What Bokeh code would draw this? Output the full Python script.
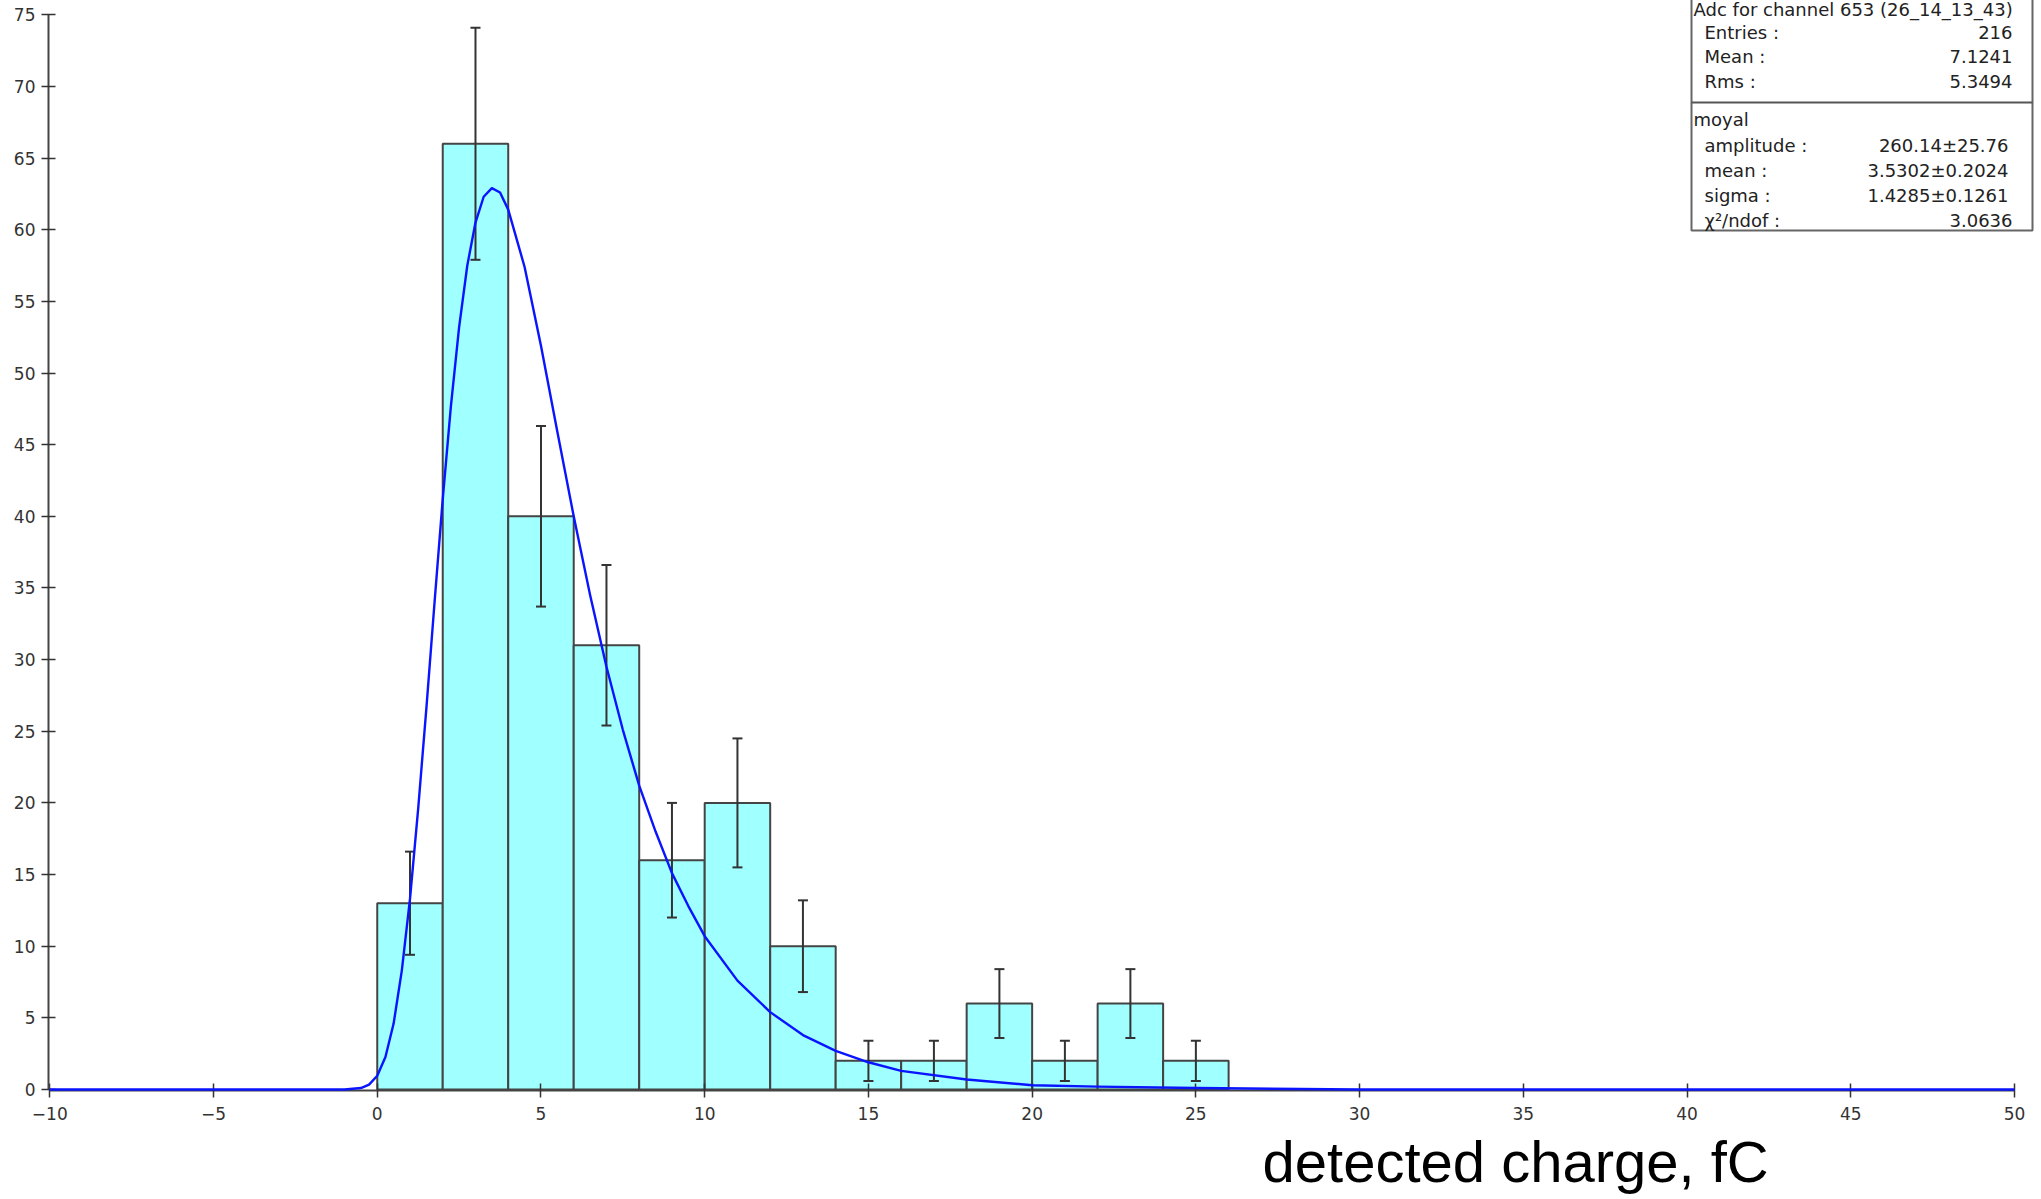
from bokeh.plotting import figure
from bokeh.models import Range1d, ColumnDataSource, Whisker, TeeHead, Title, FixedTicker
from bokeh.core.properties import value
from bokeh.embed import file_html
from bokeh.resources import INLINE

# ---------------- data ----------------
bin_left = [0, 2, 4, 6, 8, 10, 12, 14, 16, 18, 20, 22, 24]
bin_right = [2, 4, 6, 8, 10, 12, 14, 16, 18, 20, 22, 24, 26]
counts = [13, 66, 40, 31, 16, 20, 10, 2, 2, 6, 2, 6, 2]
errors = [3.6, 8.1, 6.3, 5.6, 4.0, 4.5, 3.2, 1.4, 1.4, 2.4, 1.4, 2.4, 1.4]

curve_x = [-10, -2, -1, -0.5, -0.25, 0, 0.25, 0.5, 0.75, 1, 1.25, 1.5, 1.75, 2, 2.25, 2.5,
           2.75, 3, 3.25, 3.5, 3.75, 4, 4.5, 5, 5.5, 6, 6.5, 7, 7.5, 8, 8.5, 9, 9.5, 10,
           11, 12, 13, 14, 15, 16, 18, 20, 22, 25, 30, 50]
curve_y = [0, 0, 0.0, 0.1, 0.34, 0.96, 2.27, 4.6, 8.3, 13.3, 19.6, 26.6, 34.0, 41.2, 47.7, 53.2,
           57.5, 60.5, 62.3, 62.9, 62.6, 61.4, 57.4, 51.9, 45.9, 40.0, 34.5, 29.5, 25.1, 21.2,
           18.0, 15.1, 12.8, 10.7, 7.6, 5.4, 3.8, 2.7, 1.9, 1.3, 0.7, 0.3, 0.2, 0.1, 0, 0]

x_ticks = [-10, -5, 0, 5, 10, 15, 20, 25, 30, 35, 40, 45, 50]
y_ticks = [0, 5, 10, 15, 20, 25, 30, 35, 40, 45, 50, 55, 60, 65, 70, 75]

stats_title = "Adc for channel 653 (26_14_13_43)"
stats_names = ["Entries :", "Mean :", "Rms :"]
stats_values = ["216", "7.1241", "5.3494"]
fit_title = "moyal"
fit_names = ["amplitude :", "mean :", "sigma :", "\u03c7\u00b2/ndof :"]
fit_values = ["260.14\u00b125.76", "3.5302\u00b10.2024", "1.4285\u00b10.1261", "3.0636"]
x_label = "detected charge, fC"

# ---------------- pixel helpers (layout only) ----------------
X0_PX, X_SCALE = 49.3, 32.745   # px of x=-10, px per unit
Y0_PX, Y_SCALE = 1089.0, 14.33  # px of y=0, px per unit


def dx(px):
    return -10 + (px - X0_PX) / X_SCALE


def dy(py):
    return (Y0_PX - py) / Y_SCALE


FL, FR, FT, FB = 48, 2036, 0, 1090
W, H = 2041, 1199

p = figure(width=W, height=H, output_backend="svg", toolbar_location=None,
           x_range=Range1d(dx(FL), dx(FR)), y_range=Range1d(dy(FB), dy(FT)),
           min_border_left=FL, min_border_right=W - FR, min_border_top=FT,
           min_border_bottom=H - FB)
p.outline_line_color = None
p.grid.visible = False
p.background_fill_color = "white"
p.border_fill_color = "white"

# bars
p.quad(left=bin_left, right=bin_right, bottom=0, top=counts,
       fill_color="#a0ffff", line_color="#444444", line_width=2)

# error bars
lower = [c - e for c, e in zip(counts, errors)]
upper = [c + e for c, e in zip(counts, errors)]
centers = [(a + b) / 2 for a, b in zip(bin_left, bin_right)]
src = ColumnDataSource(dict(x=centers, lo=lower, hi=upper))
wh = Whisker(source=src, base="x", lower="lo", upper="hi", line_color="#333333", line_width=2,
             upper_head=TeeHead(size=10, line_color="#333333", line_width=2),
             lower_head=TeeHead(size=10, line_color="#333333", line_width=2),
             level="annotation")
p.add_layout(wh)

# fit curve
r = p.line(curve_x, curve_y, line_color="#0a14ff", line_width=2.4, line_join="round")
r.level = "overlay"

# axes
for ax, ticks, bounds in ((p.xaxis[0], x_ticks, (-10, 50)), (p.yaxis[0], y_ticks, (0, 75))):
    ax.ticker = FixedTicker(ticks=ticks)
    ax.bounds = bounds
    ax.axis_line_color = "#444444"
    ax.axis_line_width = 2
    ax.major_tick_line_color = "#333333"
    ax.major_tick_line_width = 1.5
    ax.major_tick_in = 7
    ax.major_tick_out = 7
    ax.minor_tick_line_color = None
    ax.major_label_text_font = "DejaVu Sans"
    ax.major_label_text_font_size = "17px"
    ax.major_label_text_color = "#333333"
p.xaxis[0].major_label_standoff = 9
p.yaxis[0].major_label_standoff = 6

# x label as a title below the axis
p.add_layout(Title(text=x_label, align="left", offset=1262 - FL, text_font="Liberation Sans",
                   text_font_size="58px", text_font_style="normal", text_color="black",
                   standoff=9), "below")

# stats box
p.quad(left=[dx(1691)], right=[dx(2032)], top=[dy(-5)], bottom=[dy(230)],
       fill_color="white", line_color="#666666", line_width=2, level="annotation")
p.line([dx(1691), dx(2032)], [dy(102), dy(102)], line_color="#555555", line_width=2,
       level="annotation")

font = value("DejaVu Sans")
common = dict(text_font=font, text_font_size="18px", text_color="#222222",
              text_baseline="middle", level="annotation")
p.text(x=[dx(1693)], y=[dy(9)], text=[stats_title], text_align="left", **common)
row_y1 = [32, 56, 81]
p.text(x=[dx(1704)] * 3, y=[dy(v) for v in row_y1], text=stats_names, text_align="left", **common)
p.text(x=[dx(2012)] * 3, y=[dy(v) for v in row_y1], text=stats_values, text_align="right", **common)
p.text(x=[dx(1693)], y=[dy(119)], text=[fit_title], text_align="left", **common)
row_y2 = [145, 170, 195, 220]
p.text(x=[dx(1704)] * 4, y=[dy(v) for v in row_y2], text=fit_names, text_align="left", **common)
p.text(x=[dx(2008), dx(2008), dx(2008), dx(2012)], y=[dy(v) for v in row_y2], text=fit_values,
       text_align="right", **common)

open("out.html", "w").write(file_html(p, INLINE))
